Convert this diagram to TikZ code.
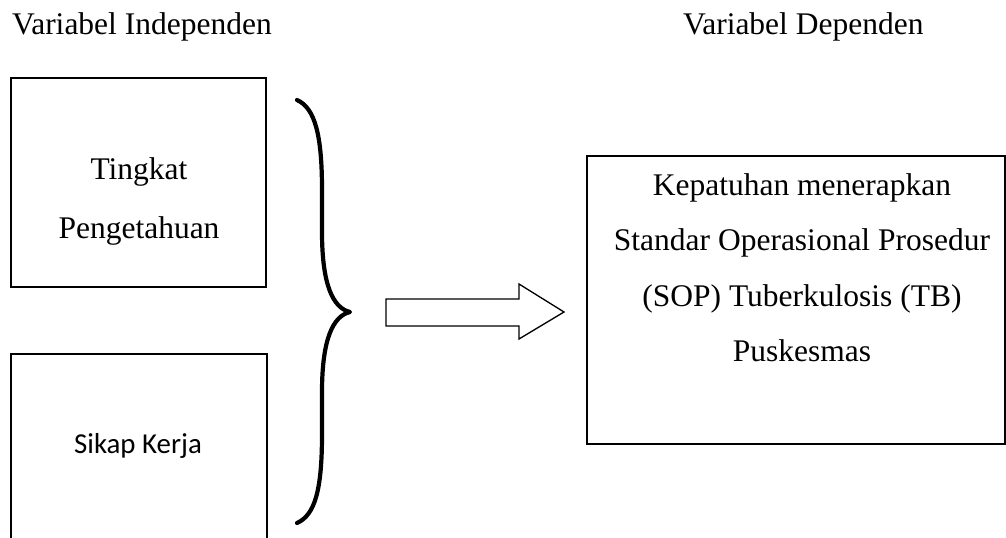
\documentclass[tikz,border=0pt]{standalone}
\usepackage{fontspec}
\setmainfont{Liberation Serif}
\newfontfamily\calibri{Carlito}
\usetikzlibrary{positioning}
\newcommand\pxu{0.381pt}

\begin{document}
\begin{tikzpicture}[x=\pxu,y=-\pxu,
  every node/.style={inner sep=0pt,outer sep=0pt},
  varbox/.style={draw,line width=.6pt,anchor=north west},
  boxtext/.style={anchor=base,font=\fontsize{12}{22.5}\selectfont},
  brace/.style={line width=1.6pt,line cap=round,line join=round},
  hollow/.style={draw,line width=.5pt,fill=white}]
 \useasboundingbox (0,0) rectangle (1006,538);
 \clip (0,0) rectangle (1006,538);
 % headings
 \node[anchor=base west,font=\fontsize{12}{14}\selectfont] (indep) at (12,34)
   {Variabel Independen};
 \node[anchor=base west,font=\fontsize{12}{14}\selectfont] (dep) at (683,34)
   {Variabel Dependen};
 % independent variables
 \node[varbox,minimum width={255*\pxu},minimum height={209*\pxu}] (know) at (11,78) {};
 \node[varbox,minimum width={256*\pxu},minimum height={260*\pxu}] (attitude) at (11,354) {};
 \node[boxtext] (knowtxt) at (139,179)
   {\begin{tabular}[t]{@{}c@{}}Tingkat\\Pengetahuan\end{tabular}};
 \node[anchor=base,font=\calibri\fontsize{11}{13}\selectfont] (attitudetxt) at (138,453)
   {Sikap Kerja};
 % brace
 \coordinate (btop) at (297,100);
 \coordinate (btip) at (350,312);
 \coordinate (bbot) at (297,523);
 \draw[brace] (btop) .. controls (315,108) and (322,135) .. (322,190) -- (322,232)
   .. controls (322,285) and (333,308) .. (btip)
   .. controls (333,316) and (322,339) .. (322,392) -- (322,434)
   .. controls (322,490) and (315,515) .. (bbot);
 % arrow
 \draw[hollow] (386,299) -- (519,299) -- (519,284) -- (564,312) -- (519,339)
   -- (519,326) -- (386,326) -- cycle;
 % dependent variable
 \node[varbox,line width=.7pt,minimum width={418*\pxu},minimum height={288*\pxu}] (comply) at (587,156) {};
 \node[anchor=base,font=\fontsize{12}{21.2}\selectfont] (complytxt) at (802,195)
   {\begin{tabular}[t]{@{}c@{}}Kepatuhan menerapkan\\Standar Operasional Prosedur\\
    (SOP) Tuberkulosis (TB)\\Puskesmas\end{tabular}};
\end{tikzpicture}
\end{document}
